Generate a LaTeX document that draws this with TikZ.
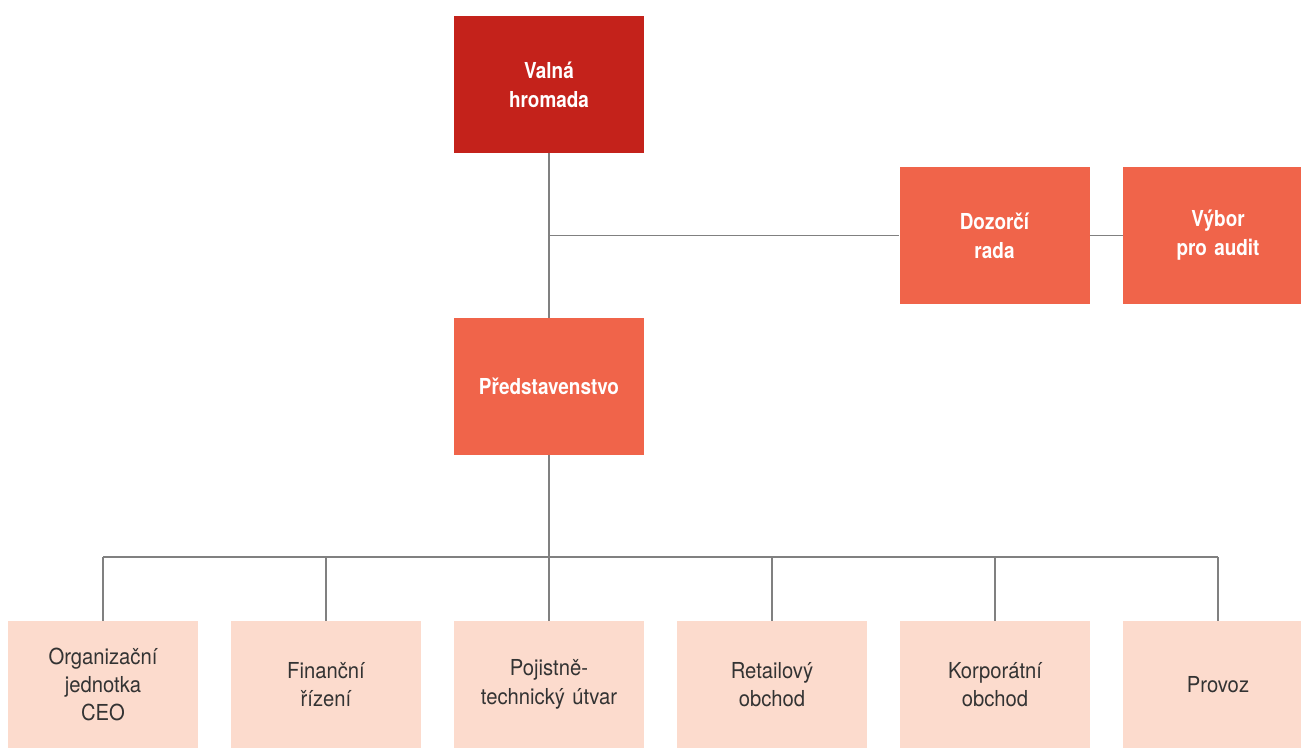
\documentclass[tikz,border=0pt]{standalone}
\usepackage{fontspec}
\setmainfont{TeX Gyre Heros}[FakeStretch=0.92, WordSpace=0.65,
  BoldFeatures={FakeStretch=0.86, WordSpace=0.6}]
\usetikzlibrary{calc}

\definecolor{valnared}{HTML}{C4221B}
\definecolor{boardorange}{HTML}{F0644A}
\definecolor{unitpink}{HTML}{FCDBCD}
\definecolor{linegray}{HTML}{808080}
\definecolor{unittext}{HTML}{333333}

\begin{document}
\begin{tikzpicture}[x=0.5pt, y=-0.5pt,
  topbox/.style={rectangle, minimum width=95pt, minimum height=68.5pt,
    text width=90pt, align=center, inner sep=0pt, text=white,
    font=\fontsize{11}{14.5}\selectfont\bfseries},
  unitbox/.style={rectangle, fill=unitpink, minimum width=95pt,
    minimum height=63.5pt, text width=90pt, align=center, inner sep=0pt,
    text=unittext, font=\fontsize{11}{14.2}\selectfont},
  link/.style={draw=linegray, line width=0.75pt}]
  \useasboundingbox (0,0) rectangle (1301,749);
  \clip (0,0) rectangle (1301,749);

  \node[topbox, fill=valnared]    (valna) at (549,84.5)    {Valná\\hromada};
  \node[topbox, fill=boardorange] (dozor) at (994.5,235.5) {Dozorčí\\rada};
  \node[topbox, fill=boardorange] (audit) at (1218,235.5)  {Výbor\\pro audit};
  \node[topbox, fill=boardorange] (pred)  at (549,386.5)   {Představenstvo};

  \node[unitbox] (u1) at (103,684.5)  {Organizační\\jednotka\\CEO};
  \node[unitbox] (u2) at (326,684.5)  {Finanční\\řízení};
  \node[unitbox] (u3) at (549,684.5)  {Pojistně-\\technický útvar};
  \node[unitbox] (u4) at (772,684.5)  {Retailový\\obchod};
  \node[unitbox] (u5) at (995,684.5)  {Korporátní\\obchod};
  \node[unitbox] (u6) at (1218,684.5) {Provoz};

  \coordinate (J) at (549,235.5);
  \coordinate (bus) at (549,557);

  \draw[link] (valna.south) -- (pred.north);
  \draw[link] (J) -- (dozor.west);
  \draw[link] (dozor.east) -- (audit.west);
  \draw[link] (pred.south) -- (bus);
  \draw[link] (u1.north |- bus) -- (u6.north |- bus);
  \foreach \i in {1,...,6} \draw[link] (u\i.north) -- (u\i.north |- bus);
\end{tikzpicture}
\end{document}
